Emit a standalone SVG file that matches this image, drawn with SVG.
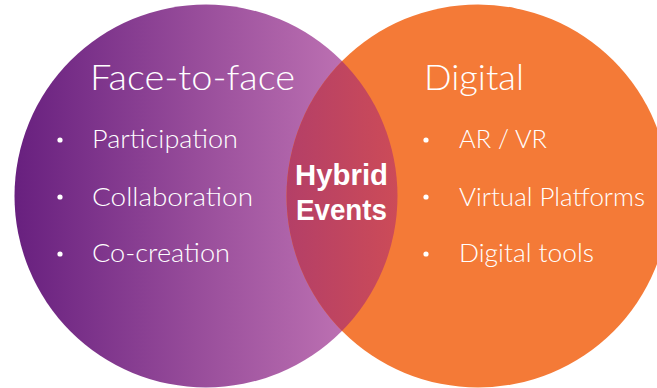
<svg xmlns="http://www.w3.org/2000/svg" width="657" height="388" viewBox="0 0 657 388">
<defs>
<linearGradient id="gPurple" gradientUnits="userSpaceOnUse" x1="15" y1="0" x2="397" y2="0">
<stop offset="0" stop-color="#68207f"/>
<stop offset="0.5" stop-color="#9a4f9c"/>
<stop offset="1" stop-color="#c97dba"/>
</linearGradient>
<linearGradient id="gOverlap" gradientUnits="userSpaceOnUse" x1="287" y1="0" x2="397" y2="0">
<stop offset="0" stop-color="#b43f67"/>
<stop offset="1" stop-color="#cc4b58"/>
</linearGradient>
<clipPath id="clipLeft"><circle cx="206" cy="196" r="191.5"/></clipPath>
<style>
.lt{font-family:"Lato","Liberation Sans",sans-serif;font-weight:300;fill:#ffffff;}
.title{font-size:35px;}
.item{font-size:25px;}
.hyb{font-family:"Liberation Sans","Arial",sans-serif;font-weight:bold;font-size:30px;fill:#ffffff;text-anchor:middle;}
.dot{fill:#ffffff;}
</style>
</defs>
<g id="face-to-face">
<circle cx="206" cy="196" r="191.5" fill="url(#gPurple)"/>
<text class="lt title" x="90" y="90" textLength="205" lengthAdjust="spacingAndGlyphs">Face-to-face</text>
<circle class="dot" cx="60" cy="140" r="2.6"/>
<text class="lt item" x="92" y="148" textLength="146" lengthAdjust="spacingAndGlyphs">Participation</text>
<circle class="dot" cx="60" cy="197" r="2.6"/>
<text class="lt item" x="92" y="206" textLength="161" lengthAdjust="spacingAndGlyphs">Collaboration</text>
<circle class="dot" cx="60" cy="254" r="2.6"/>
<text class="lt item" x="92" y="262" textLength="138" lengthAdjust="spacingAndGlyphs">Co-creation</text>
</g>
<g id="digital">
<circle cx="478" cy="196" r="191.5" fill="#f47a37"/>
<text class="lt title" x="424" y="90" textLength="100" lengthAdjust="spacingAndGlyphs">Digital</text>
<circle class="dot" cx="426" cy="140" r="2.6"/>
<text class="lt item" x="459" y="148" textLength="88" lengthAdjust="spacingAndGlyphs">AR / VR</text>
<circle class="dot" cx="426" cy="197" r="2.6"/>
<text class="lt item" x="459" y="206" textLength="186" lengthAdjust="spacingAndGlyphs">Virtual Platforms</text>
<circle class="dot" cx="426" cy="254" r="2.6"/>
<text class="lt item" x="459" y="262" textLength="135" lengthAdjust="spacingAndGlyphs">Digital tools</text>
</g>
<g id="hybrid-events">
<circle cx="478" cy="196" r="191.5" fill="url(#gOverlap)" clip-path="url(#clipLeft)"/>
<text class="hyb" x="341.5" y="185" textLength="93" lengthAdjust="spacingAndGlyphs">Hybrid</text>
<text class="hyb" x="341.5" y="220" textLength="91" lengthAdjust="spacingAndGlyphs">Events</text>
</g>
</svg>
